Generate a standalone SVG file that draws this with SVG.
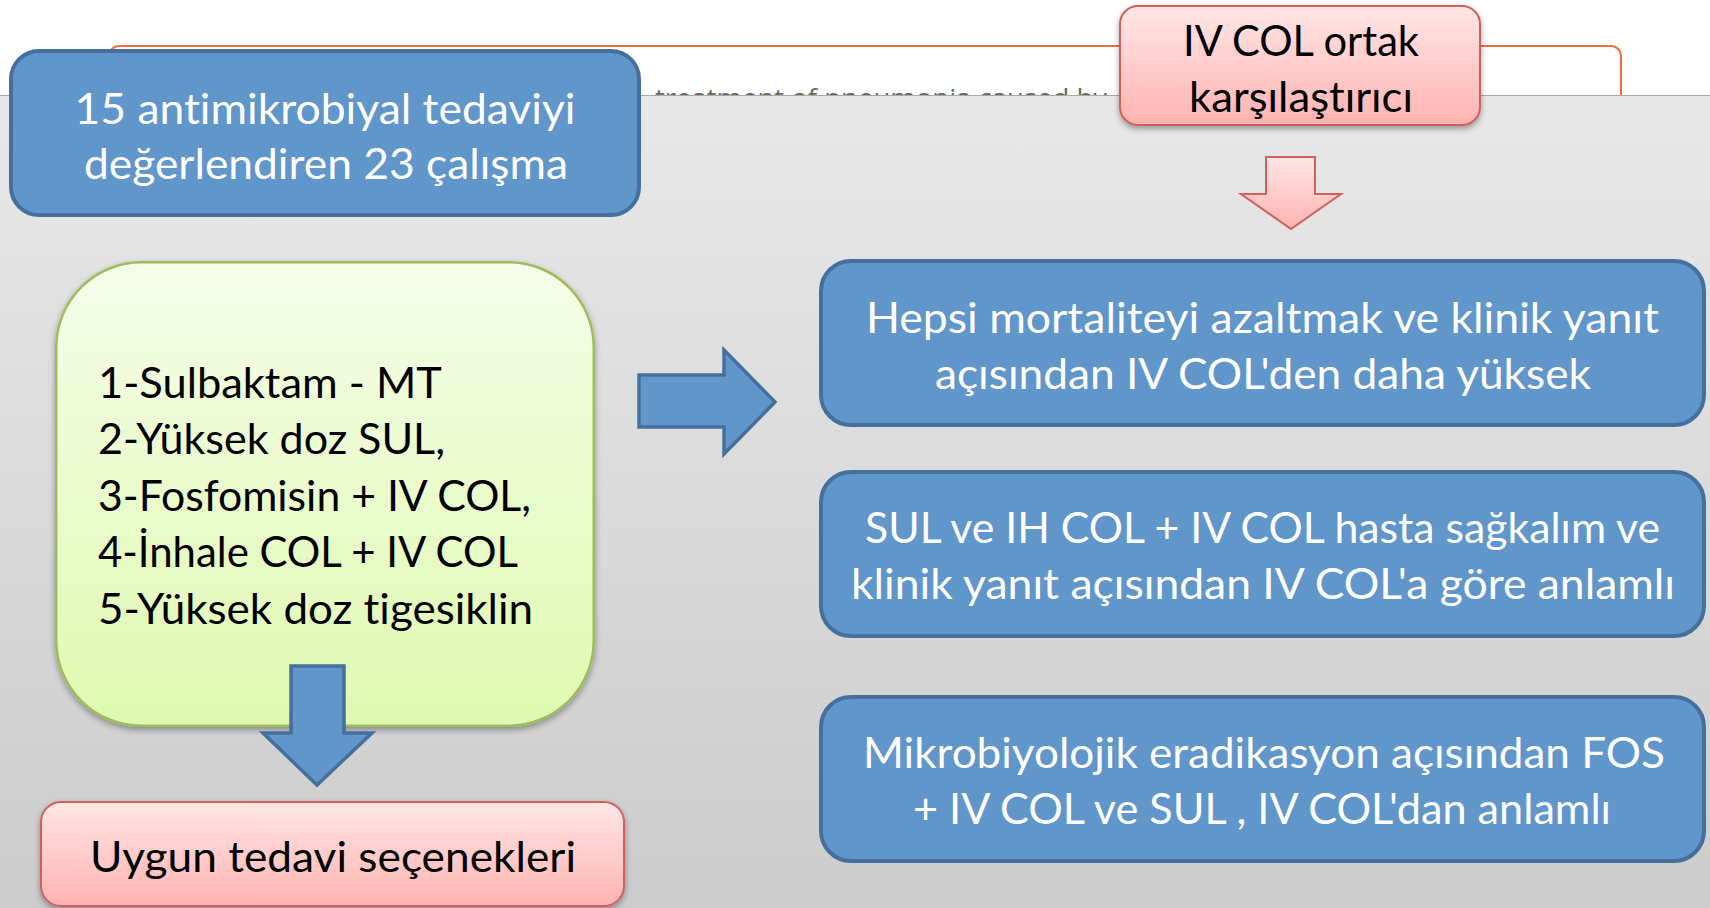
<svg xmlns="http://www.w3.org/2000/svg" width="1710" height="908" viewBox="0 0 1710 908">
<defs>
<linearGradient id="greyBg" x1="0" y1="0" x2="0" y2="1">
<stop offset="0" stop-color="#e8e8e8"/>
<stop offset="1" stop-color="#cccccc"/>
</linearGradient>
<linearGradient id="pinkFill" x1="0" y1="0" x2="0" y2="1">
<stop offset="0" stop-color="#ffe6e6"/>
<stop offset="1" stop-color="#ffb3b0"/>
</linearGradient>
<linearGradient id="greenFill" x1="0" y1="0" x2="0" y2="1">
<stop offset="0" stop-color="#f5fde9"/>
<stop offset="1" stop-color="#dff9b0"/>
</linearGradient>
<filter id="shadow" x="-10%" y="-10%" width="120%" height="130%">
<feDropShadow dx="0" dy="3" stdDeviation="3" flood-color="#000" flood-opacity="0.35"/>
</filter>
</defs>
<style>
text{font-variant-ligatures:none;font-feature-settings:"liga" 0,"clig" 0,"dlig" 0,"calt" 0,"hlig" 0}
.blue{fill:#6096c9;stroke:#45709e;stroke-width:4}
.pink{fill:url(#pinkFill);stroke:#d0605d;stroke-width:2}
.green{fill:url(#greenFill);stroke:#9dbd5c;stroke-width:2.5}
.wt{font-family:Lato,"Open Sans","Liberation Sans",sans-serif;font-size:42px;fill:#ffffff;text-anchor:middle}
.bt{font-family:Lato,"Open Sans","Liberation Sans",sans-serif;font-size:42px;fill:#000000}
.btc{font-family:Lato,"Open Sans","Liberation Sans",sans-serif;font-size:42px;fill:#000000;text-anchor:middle}
.arrowBlue{fill:#6096c9;stroke:#45709e;stroke-width:3.5;stroke-linejoin:miter}
.arrowPink{fill:url(#pinkFill);stroke:#d0605d;stroke-width:2}
</style>

<g id="background">
<rect x="0" y="0" width="1710" height="908" fill="#ffffff"/>
<rect x="109" y="46" width="1512" height="120" rx="10" fill="none" stroke="#ee7142" stroke-width="2"/>
<text x="655" y="107" font-family="'Open Sans','Liberation Sans',sans-serif" font-size="26" fill="#666666" textLength="452" lengthAdjust="spacingAndGlyphs">treatment of pneumonia caused by</text>
<rect x="0" y="95" width="1710" height="813" fill="url(#greyBg)"/>
<line x1="0" y1="95.5" x2="1710" y2="95.5" stroke="#a9a9a9" stroke-width="1"/>
</g>

<g id="node-studies">
<rect class="blue" x="11" y="51" width="628" height="164" rx="28"/>
<text class="wt" x="325" y="124" textLength="501" lengthAdjust="spacingAndGlyphs">15 antimikrobiyal tedaviyi</text>
<text class="wt" x="326" y="179" textLength="484" lengthAdjust="spacingAndGlyphs">değerlendiren 23 çalışma</text>
</g>

<g id="node-comparator">
<rect class="pink" x="1120" y="6" width="360" height="119" rx="18" filter="url(#shadow)"/>
<text class="btc" x="1301" y="56" textLength="236" lengthAdjust="spacingAndGlyphs">IV COL ortak</text>
<text class="btc" x="1301" y="112" textLength="224" lengthAdjust="spacingAndGlyphs">karşılaştırıcı</text>
</g>

<g id="node-treatments">
<rect class="green" x="56.25" y="262.25" width="537.5" height="463.5" rx="85" filter="url(#shadow)"/>
<text class="bt" x="98" y="398" textLength="344" lengthAdjust="spacingAndGlyphs">1-Sulbaktam - MT</text>
<text class="bt" x="98" y="454" textLength="347" lengthAdjust="spacingAndGlyphs">2-Yüksek doz SUL,</text>
<text class="bt" x="98" y="511" textLength="433" lengthAdjust="spacingAndGlyphs">3-Fosfomisin + IV COL,</text>
<text class="bt" x="98" y="567" textLength="420" lengthAdjust="spacingAndGlyphs">4-İnhale COL + IV COL</text>
<text class="bt" x="98" y="624" textLength="435" lengthAdjust="spacingAndGlyphs">5-Yüksek doz tigesiklin</text>
</g>

<g id="node-options">
<rect class="pink" x="41" y="802" width="583" height="104" rx="20" filter="url(#shadow)"/>
<text class="btc" x="333" y="872" textLength="486" lengthAdjust="spacingAndGlyphs">Uygun tedavi seçenekleri</text>
</g>

<g id="node-result-1">
<rect class="blue" x="821" y="261" width="883" height="164" rx="30"/>
<text class="wt" x="1262.5" y="333" textLength="793" lengthAdjust="spacingAndGlyphs">Hepsi mortaliteyi azaltmak ve klinik yanıt</text>
<text class="wt" x="1263" y="389" textLength="656" lengthAdjust="spacingAndGlyphs">açısından IV COL'den daha yüksek</text>
</g>

<g id="node-result-2">
<rect class="blue" x="821" y="472" width="883" height="164" rx="30"/>
<text class="wt" x="1262.5" y="543" textLength="795" lengthAdjust="spacingAndGlyphs">SUL ve IH COL + IV COL hasta sağkalım ve</text>
<text class="wt" x="1263" y="599" textLength="824" lengthAdjust="spacingAndGlyphs">klinik yanıt açısından IV COL'a göre anlamlı</text>
</g>

<g id="node-result-3">
<rect class="blue" x="821" y="697" width="883" height="164" rx="30"/>
<text class="wt" x="1264" y="768" textLength="802" lengthAdjust="spacingAndGlyphs">Mikrobiyolojik eradikasyon açısından FOS</text>
<text class="wt" x="1262" y="824" textLength="698" lengthAdjust="spacingAndGlyphs">+ IV COL ve SUL , IV COL'dan anlamlı</text>
</g>

<g id="connectors">
<polygon class="arrowBlue" points="639,375 724,375 724,350 775,402 724,454 724,427 639,427"/>
<polygon class="arrowBlue" points="291,666 344,666 344,733 372,733 317,785 263,733 291,733"/>
<polygon class="arrowPink" points="1266,157 1315,157 1315,194 1341,194 1291,229 1241,194 1266,194"/>
</g>
</svg>
